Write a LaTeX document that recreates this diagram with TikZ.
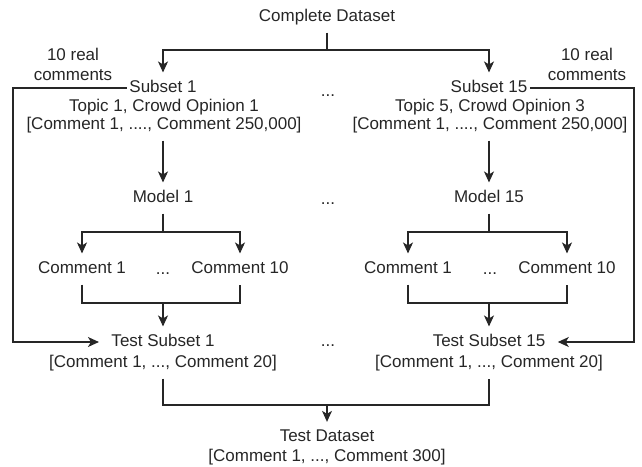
\documentclass[tikz,border=0pt]{standalone}
\usepackage{fontspec}
\setmainfont{Liberation Sans}
\usetikzlibrary{arrows.meta, positioning}

\begin{document}
\begin{tikzpicture}[x=1pt, y=-1pt, line width=1.1pt, color=black!85,
		font=\fontsize{17}{20}\selectfont,
		every node/.style={inner xsep=2pt, inner ysep=7pt, text height=12.5pt, text depth=3.5pt},
		arr/.style={-{Stealth[length=11pt, width=10pt, inset=3pt]}},
		test/.style={inner xsep=12pt}]
	\useasboundingbox (0,0) rectangle (642,466);

	% top
	\node (complete) at (327,17) {Complete Dataset};
	\coordinate (cj) at (327,50);

	% left column
	\node (lsub) at (163,88) {Subset 1};
	\node (ltopic) at (164,107) {Topic 1, Crowd Opinion 1};
	\node (lrange) at (164,125) {[Comment 1, ...., Comment 250,000]};
	\node [align=center, text height=, text depth=] (llbl) at (73,64) {10 real\\comments};
	\node (lmodel) at (163,198) {Model 1};
	\coordinate (lmj) at (163,232);
	\node (lc1) at (82,269) {Comment 1};
	\node (lc10) at (240,269) {Comment 10};
	\node (ldots) at (163,270) {...};
	\coordinate (lcj) at (163,303);
	\node [test] (ltest) at (163,342) {Test Subset 1};
	\node (ltestr) at (163,363) {[Comment 1, ..., Comment 20]};
	\coordinate (lfar) at (13,342);

	% right column
	\node (rsub) at (489,88) {Subset 15};
	\node (rtopic) at (490,107) {Topic 5, Crowd Opinion 3};
	\node (rrange) at (490,125) {[Comment 1, ...., Comment 250,000]};
	\node [align=center, text height=, text depth=] (rlbl) at (587,64) {10 real\\comments};
	\node (rmodel) at (489,198) {Model 15};
	\coordinate (rmj) at (489,232);
	\node (rc1) at (408,269) {Comment 1};
	\node (rc10) at (567,269) {Comment 10};
	\node (rdots) at (490,270) {...};
	\coordinate (rcj) at (489,303);
	\node [test] (rtest) at (489,342) {Test Subset 15};
	\node (rtestr) at (489,363) {[Comment 1, ..., Comment 20]};
	\coordinate (rfar) at (634,342);

	% middle dots
	\node (mdots1) at (328,92) {...};
	\node (mdots2) at (328,200) {...};
	\node (mdots3) at (328,342) {...};

	% bottom
	\coordinate (bj) at (327,405);
	\node [align=center, text height=, text depth=] (testds) at (327,447) {Test Dataset\\{}[Comment 1, ..., Comment 300]};

	% connectors
	\draw (complete) -- (cj);
	\draw [arr] (cj) -| (lsub);
	\draw [arr] (cj) -| (rsub);

	\draw [arr] (lsub) -| (lfar) -- (ltest);
	\draw [arr] (rsub) -| (rfar) -- (rtest);

	\draw [arr] (lrange.south -| lmodel) -- (lmodel);
	\draw (lmodel) -- (lmj);
	\draw [arr] (lmj) -| (lc1);
	\draw [arr] (lmj) -| (lc10);
	\draw (lc1) |- (lcj) -| (lc10);
	\draw [arr] (lcj) -- (ltest);

	\draw [arr] (rrange.south -| rmodel) -- (rmodel);
	\draw (rmodel) -- (rmj);
	\draw [arr] (rmj) -| (rc1);
	\draw [arr] (rmj) -| (rc10);
	\draw (rc1) |- (rcj) -| (rc10);
	\draw [arr] (rcj) -- (rtest);

	\draw (ltestr) |- (bj) -| (rtestr);
	\draw [arr] (bj) -- (testds);
\end{tikzpicture}
\end{document}
